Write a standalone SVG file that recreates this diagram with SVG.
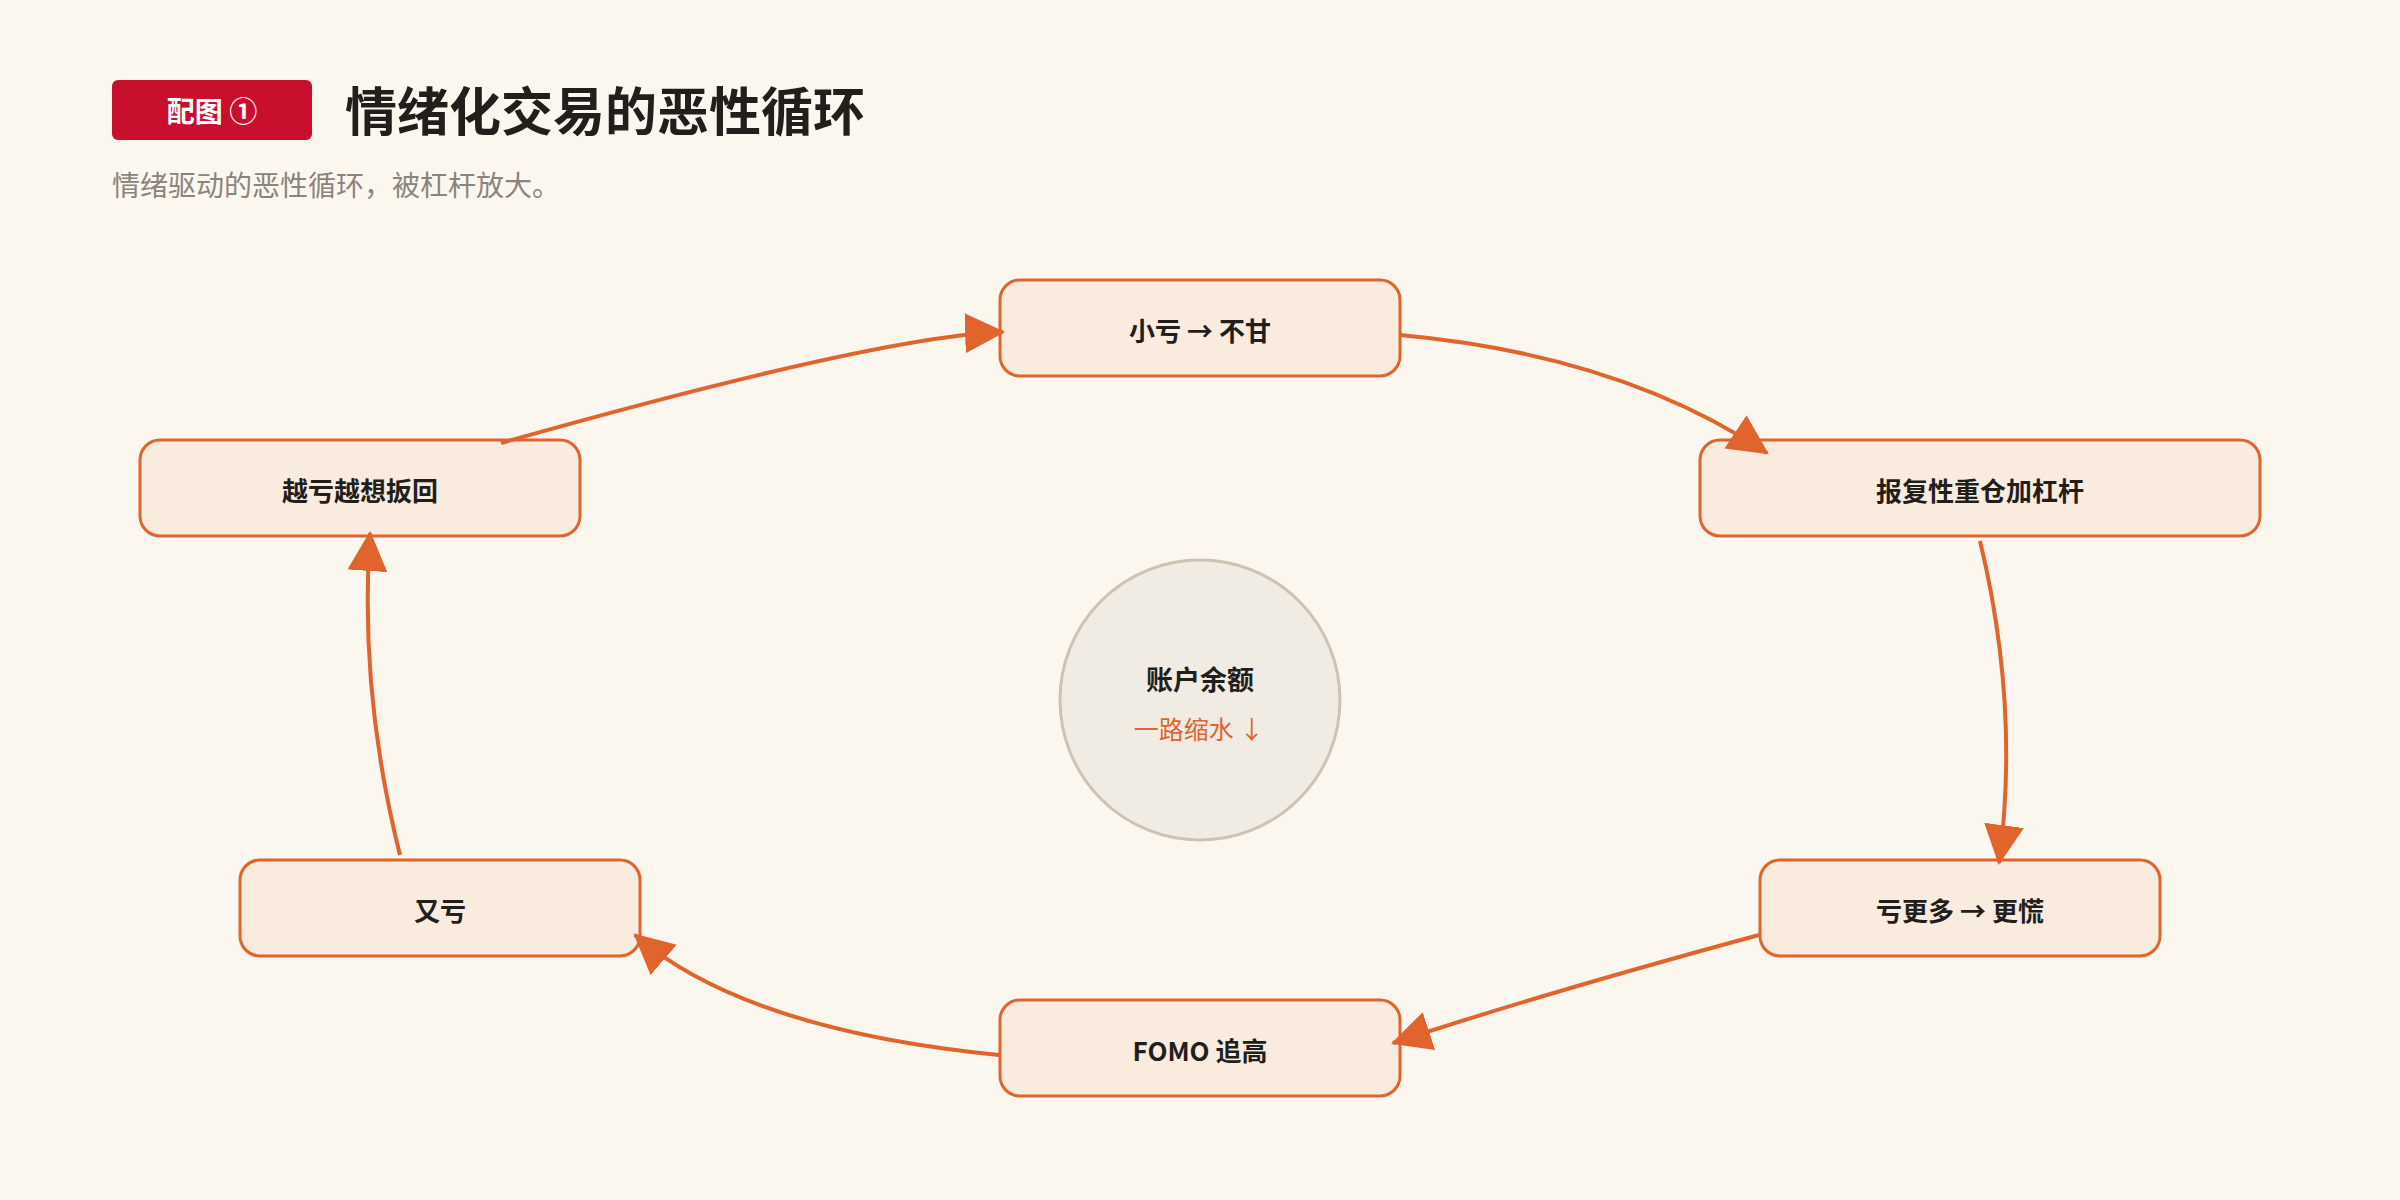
<svg xmlns="http://www.w3.org/2000/svg" width="2400" height="1200" viewBox="0 0 2400 1200">
  <defs>
    <marker id="arrow" markerUnits="userSpaceOnUse" markerWidth="40" markerHeight="40" viewBox="0 0 38 38" refX="36" refY="19" orient="auto">
      <path d="M0,0 L38,19 L0,38 Z" fill="#E0642C"/>
    </marker>
    <style>
      text { font-family: "Noto Sans CJK SC", "Noto Sans", sans-serif; }
      .node rect { fill: #FAEBDF; stroke: #E0642C; stroke-width: 3; }
      .label { font-size: 26px; font-weight: 700; fill: #221E1B; text-anchor: middle; dominant-baseline: central; }
      .edge { fill: none; stroke: #E0642C; stroke-width: 4; marker-end: url(#arrow); }
    </style>
  </defs>
  <rect x="0" y="0" width="2400" height="1200" fill="#FBF7EF"/>

  <g id="header">
    <rect x="112" y="80" width="200" height="60" rx="6" fill="#C8102E"/>
    <text x="212" y="110" font-size="28" font-weight="700" fill="#FFFFFF" text-anchor="middle" dominant-baseline="central">配图 ①</text>
    <text x="345" y="108" font-size="52" font-weight="700" fill="#221E1B" dominant-baseline="central">情绪化交易的恶性循环</text>
    <text x="112" y="184" font-size="28" fill="#8A847C" dominant-baseline="central">情绪驱动的恶性循环，被杠杆放大。</text>
  </g>

  <g id="center">
    <circle cx="1200" cy="700" r="140" fill="#F1ECE3" stroke="#CCC3B4" stroke-width="3"/>
    <text x="1200" y="678" font-size="27" font-weight="700" fill="#221E1B" text-anchor="middle" dominant-baseline="central">账户余额</text>
    <text x="1199" y="728" font-size="25" fill="#E0642C" text-anchor="middle" dominant-baseline="central">一路缩水 ↓</text>
  </g>

  <g id="node-1" class="node">
    <rect x="1000" y="280" width="400" height="96" rx="20"/>
    <text class="label" x="1200" y="329">小亏 → 不甘</text>
  </g>
  <g id="node-2" class="node">
    <rect x="1700" y="440" width="560" height="96" rx="20"/>
    <text class="label" x="1980" y="489">报复性重仓加杠杆</text>
  </g>
  <g id="node-3" class="node">
    <rect x="1760" y="860" width="400" height="96" rx="20"/>
    <text class="label" x="1960" y="909">亏更多 → 更慌</text>
  </g>
  <g id="node-4" class="node">
    <rect x="1000" y="1000" width="400" height="96" rx="20"/>
    <text class="label" x="1200" y="1049">FOMO 追高</text>
  </g>
  <g id="node-5" class="node">
    <rect x="240" y="860" width="400" height="96" rx="20"/>
    <text class="label" x="440" y="909">又亏</text>
  </g>
  <g id="node-6" class="node">
    <rect x="140" y="440" width="440" height="96" rx="20"/>
    <text class="label" x="360" y="489">越亏越想扳回</text>
  </g>

  <g id="connectors">
    <path class="edge" d="M1400,335 Q1620,355 1767,453"/>
    <path class="edge" d="M1980,541 Q2020,707 1999,863"/>
    <path class="edge" d="M1759,935 Q1545,993 1393,1043"/>
    <path class="edge" d="M999,1055 Q745,1030 635,935"/>
    <path class="edge" d="M400,855 Q359,692 370,533"/>
    <path class="edge" d="M501,443 Q880,336 1003,332"/>
  </g>
</svg>
